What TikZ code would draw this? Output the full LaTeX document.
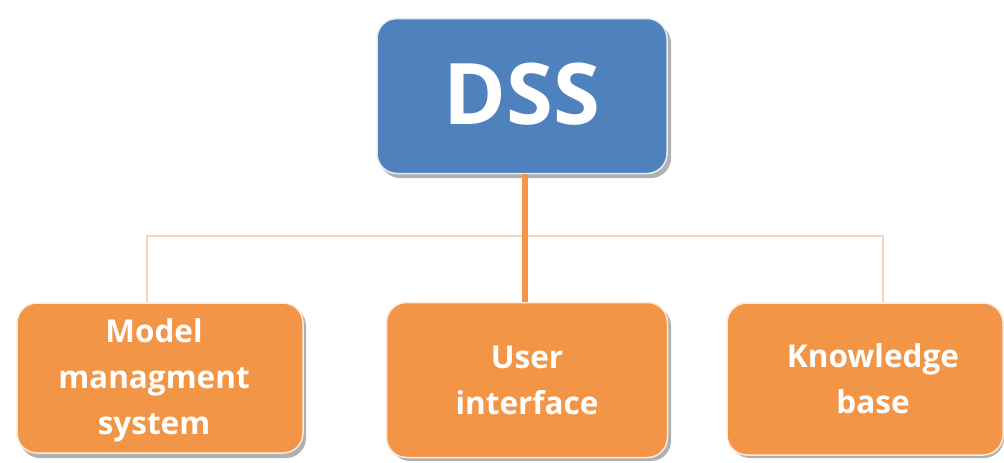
\documentclass[tikz,border=0pt]{standalone}
\usepackage{fontspec}
\setmainfont{Open Sans}
\definecolor{dssblue}{HTML}{4F81BD}
\definecolor{boxorange}{HTML}{F39546}
\definecolor{thinline}{HTML}{EAD8B8}
\definecolor{shadowgray}{HTML}{B0B0B0}
\begin{document}
\begin{tikzpicture}[x=1pt,y=-1pt,
  box/.style={rounded corners=20pt, draw=white!80!boxorange, line width=1.5pt, fill=boxorange,
    inner sep=0pt},
  boxtext/.style={text=white, font=\bfseries\fontsize{31.5}{46}\selectfont, align=center, inner sep=0pt},
  topbox/.style={box, fill=dssblue, draw=white!85!dssblue},
  toptext/.style={text=white, font=\bfseries\fontsize{85}{100}\selectfont, inner sep=0pt}]
\useasboundingbox (0,0) rectangle (1004,463);
% shadows
\fill[shadowgray] [rounded corners=20pt] (380,23) rectangle (671,178);
\fill[shadowgray] [rounded corners=20pt] (20,306) rectangle (306,458);
\fill[shadowgray] [rounded corners=20pt] (390,306) rectangle (671,461);
\fill[shadowgray] [rounded corners=20pt] (730,306) rectangle (1004,458);
% boxes
\node[topbox, minimum width=290pt, minimum height=155pt] (dss) at (522,96) {};
\node[box, minimum width=286pt, minimum height=150pt] (model) at (160,378) {};
\node[box, minimum width=281pt, minimum height=155pt] (user) at (527,380) {};
\node[box, minimum width=276pt, minimum height=152pt] (know) at (865,379) {};
% texts
\node[toptext] (dsst) at ([yshift=2pt]dss.center) {DSS};
\node[boxtext] (modelt) at ([xshift=-6pt,yshift=-2pt]model.center) {Model\\managment\\system};
\node[boxtext] (usert) at ([yshift=0pt]user.center) {User\\interface};
\node[boxtext] (knowt) at ([xshift=8pt]know.center) {Knowledge\\base};
% connectors
\coordinate (hl) at (147,236);
\coordinate (hr) at (883,236);
\draw[thinline, line width=1.5pt] (hl |- model.north) -- (hl) -- (hr) -- (hr |- know.north);
\draw[boxorange, line width=6pt] ([xshift=3pt]dss.south) -- ([xshift=-2pt]user.north);
\end{tikzpicture}
\end{document}
